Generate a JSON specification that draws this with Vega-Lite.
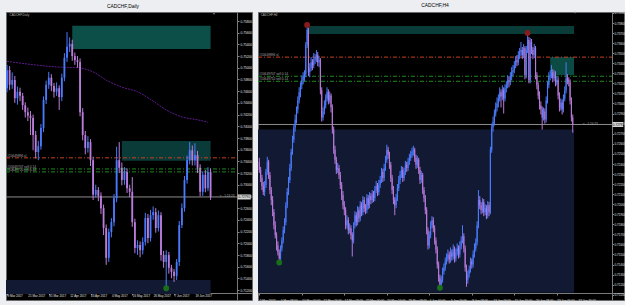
{
"$schema":"https://vega.github.io/schema/vega-lite/v6.json",
"background":"#eceef2",
"padding":{"left":4,"right":3,"top":2,"bottom":5},
"spacing":6,
"bounds":"flush",
"config":{"view":{"fill":"#000000","stroke":"#6a6a6a","strokeWidth":1},"axis":{"labelOverlap":false,"labelBound":false},"title":{"fontSize":4.9,"fontWeight":"normal","color":"#000000","font":"Liberation Sans","offset":3.6}},
"datasets":{
"daily":[
{"i":0,"o":0.7465,"h":0.7505,"l":0.7458,"c":0.7496},{"i":1,"o":0.7496,"h":0.7503,"l":0.7462,"c":0.7471},{"i":2,"o":0.7471,"h":0.7492,"l":0.7464,"c":0.7479},{"i":3,"o":0.7479,"h":0.7486,"l":0.7440,"c":0.7448},{"i":4,"o":0.7448,"h":0.7468,"l":0.7437,"c":0.7459},{"i":5,"o":0.7459,"h":0.7466,"l":0.7443,"c":0.7452},{"i":6,"o":0.7452,"h":0.7457,"l":0.7428,"c":0.7436},{"i":7,"o":0.7436,"h":0.7441,"l":0.7415,"c":0.7424},{"i":8,"o":0.7424,"h":0.7432,"l":0.7409,"c":0.7418},{"i":9,"o":0.7418,"h":0.7426,"l":0.7385,"c":0.7414},
{"i":10,"o":0.7414,"h":0.7420,"l":0.7359,"c":0.7385},{"i":11,"o":0.7385,"h":0.7392,"l":0.7345,"c":0.7356},{"i":12,"o":0.7356,"h":0.7375,"l":0.7342,"c":0.7366},{"i":13,"o":0.7366,"h":0.7404,"l":0.7360,"c":0.7397},{"i":14,"o":0.7397,"h":0.7451,"l":0.7390,"c":0.7445},{"i":15,"o":0.7445,"h":0.7478,"l":0.7438,"c":0.7471},{"i":16,"o":0.7471,"h":0.7493,"l":0.7464,"c":0.7483},{"i":17,"o":0.7483,"h":0.7489,"l":0.7460,"c":0.7469},{"i":18,"o":0.7469,"h":0.7474,"l":0.7449,"c":0.7459},{"i":19,"o":0.7459,"h":0.7475,"l":0.7452,"c":0.7465},
{"i":20,"o":0.7465,"h":0.7470,"l":0.7428,"c":0.7450},{"i":21,"o":0.7450,"h":0.7490,"l":0.7443,"c":0.7483},{"i":22,"o":0.7483,"h":0.7525,"l":0.7477,"c":0.7517},{"i":23,"o":0.7517,"h":0.7561,"l":0.7510,"c":0.7536},{"i":24,"o":0.7536,"h":0.7552,"l":0.7527,"c":0.7541},{"i":25,"o":0.7541,"h":0.7548,"l":0.7512,"c":0.7520},{"i":26,"o":0.7520,"h":0.7526,"l":0.7505,"c":0.7513},{"i":27,"o":0.7513,"h":0.7520,"l":0.7500,"c":0.7510},{"i":28,"o":0.7510,"h":0.7516,"l":0.7417,"c":0.7424},{"i":29,"o":0.7424,"h":0.7431,"l":0.7376,"c":0.7385},
{"i":30,"o":0.7385,"h":0.7392,"l":0.7352,"c":0.7363},{"i":31,"o":0.7363,"h":0.7383,"l":0.7355,"c":0.7373},{"i":32,"o":0.7373,"h":0.7378,"l":0.7332,"c":0.7342},{"i":33,"o":0.7342,"h":0.7348,"l":0.7274,"c":0.7283},{"i":34,"o":0.7283,"h":0.7300,"l":0.7278,"c":0.7291},{"i":35,"o":0.7291,"h":0.7296,"l":0.7272,"c":0.7281},{"i":36,"o":0.7281,"h":0.7287,"l":0.7250,"c":0.7260},{"i":37,"o":0.7260,"h":0.7266,"l":0.7214,"c":0.7226},{"i":38,"o":0.7226,"h":0.7232,"l":0.7163,"c":0.7175},{"i":39,"o":0.7175,"h":0.7225,"l":0.7168,"c":0.7219},
{"i":40,"o":0.7219,"h":0.7243,"l":0.7210,"c":0.7236},{"i":41,"o":0.7236,"h":0.7284,"l":0.7229,"c":0.7277},{"i":42,"o":0.7277,"h":0.7365,"l":0.7270,"c":0.7342},{"i":43,"o":0.7342,"h":0.7373,"l":0.7320,"c":0.7329},{"i":44,"o":0.7329,"h":0.7338,"l":0.7299,"c":0.7308},{"i":45,"o":0.7308,"h":0.7330,"l":0.7300,"c":0.7322},{"i":46,"o":0.7322,"h":0.7328,"l":0.7286,"c":0.7294},{"i":47,"o":0.7294,"h":0.7300,"l":0.7279,"c":0.7288},{"i":48,"o":0.7288,"h":0.7313,"l":0.7228,"c":0.7236},{"i":49,"o":0.7236,"h":0.7242,"l":0.7183,"c":0.7192},
{"i":50,"o":0.7192,"h":0.7205,"l":0.7180,"c":0.7197},{"i":51,"o":0.7197,"h":0.7203,"l":0.7176,"c":0.7188},{"i":52,"o":0.7188,"h":0.7210,"l":0.7181,"c":0.7202},{"i":53,"o":0.7202,"h":0.7252,"l":0.7196,"c":0.7243},{"i":54,"o":0.7243,"h":0.7250,"l":0.7200,"c":0.7209},{"i":55,"o":0.7209,"h":0.7257,"l":0.7203,"c":0.7248},{"i":56,"o":0.7248,"h":0.7263,"l":0.7240,"c":0.7253},{"i":57,"o":0.7253,"h":0.7260,"l":0.7218,"c":0.7226},{"i":58,"o":0.7226,"h":0.7256,"l":0.7220,"c":0.7248},{"i":59,"o":0.7248,"h":0.7253,"l":0.7170,"c":0.7180},
{"i":60,"o":0.7180,"h":0.7187,"l":0.7158,"c":0.7168},{"i":61,"o":0.7168,"h":0.7188,"l":0.7123,"c":0.7180},{"i":62,"o":0.7180,"h":0.7185,"l":0.7148,"c":0.7158},{"i":63,"o":0.7158,"h":0.7163,"l":0.7140,"c":0.7151},{"i":64,"o":0.7151,"h":0.7156,"l":0.7134,"c":0.7144},{"i":65,"o":0.7144,"h":0.7173,"l":0.7137,"c":0.7168},{"i":66,"o":0.7168,"h":0.7238,"l":0.7161,"c":0.7231},{"i":67,"o":0.7231,"h":0.7268,"l":0.7226,"c":0.7260},{"i":68,"o":0.7260,"h":0.7315,"l":0.7254,"c":0.7308},{"i":69,"o":0.7308,"h":0.7350,"l":0.7302,"c":0.7342},
{"i":70,"o":0.7342,"h":0.7373,"l":0.7335,"c":0.7359},{"i":71,"o":0.7359,"h":0.7367,"l":0.7333,"c":0.7342},{"i":72,"o":0.7342,"h":0.7371,"l":0.7333,"c":0.7351},{"i":73,"o":0.7351,"h":0.7358,"l":0.7320,"c":0.7329},{"i":74,"o":0.7329,"h":0.7335,"l":0.7280,"c":0.7288},{"i":75,"o":0.7288,"h":0.7323,"l":0.7281,"c":0.7317},{"i":76,"o":0.7317,"h":0.7325,"l":0.7287,"c":0.7294},{"i":77,"o":0.7294,"h":0.7330,"l":0.7289,"c":0.7322},{"i":78,"o":0.7322,"h":0.7328,"l":0.7274,"c":0.7279}],
"h4":[
{"i":0,"o":0.7242,"h":0.7246,"l":0.7231,"c":0.7234},{"i":1,"o":0.7234,"h":0.7237,"l":0.7222,"c":0.7226},{"i":2,"o":0.7226,"h":0.7229,"l":0.7214,"c":0.7218},{"i":3,"o":0.7218,"h":0.7222,"l":0.7209,"c":0.7212},{"i":4,"o":0.7212,"h":0.7223,"l":0.7208,"c":0.7219},{"i":5,"o":0.7219,"h":0.7235,"l":0.7216,"c":0.7232},{"i":6,"o":0.7232,"h":0.7247,"l":0.7229,"c":0.7242},{"i":7,"o":0.7242,"h":0.7244,"l":0.7225,"c":0.7229},{"i":8,"o":0.7229,"h":0.7232,"l":0.7210,"c":0.7214},{"i":9,"o":0.7214,"h":0.7217,"l":0.7199,"c":0.7204},
{"i":10,"o":0.7204,"h":0.7208,"l":0.7188,"c":0.7192},{"i":11,"o":0.7192,"h":0.7195,"l":0.7175,"c":0.7179},{"i":12,"o":0.7179,"h":0.7183,"l":0.7166,"c":0.7169},{"i":13,"o":0.7169,"h":0.7172,"l":0.7154,"c":0.7159},{"i":14,"o":0.7159,"h":0.7163,"l":0.7149,"c":0.7152},{"i":15,"o":0.7152,"h":0.7155,"l":0.7142,"c":0.7146},{"i":16,"o":0.7146,"h":0.7159,"l":0.7144,"c":0.7156},{"i":17,"o":0.7156,"h":0.7167,"l":0.7153,"c":0.7164},{"i":18,"o":0.7164,"h":0.7178,"l":0.7161,"c":0.7174},{"i":19,"o":0.7174,"h":0.7186,"l":0.7171,"c":0.7182},
{"i":20,"o":0.7182,"h":0.7202,"l":0.7179,"c":0.7199},{"i":21,"o":0.7199,"h":0.7216,"l":0.7196,"c":0.7212},{"i":22,"o":0.7212,"h":0.7227,"l":0.7209,"c":0.7224},{"i":23,"o":0.7224,"h":0.7240,"l":0.7221,"c":0.7236},{"i":24,"o":0.7236,"h":0.7255,"l":0.7233,"c":0.7252},{"i":25,"o":0.7252,"h":0.7268,"l":0.7249,"c":0.7264},{"i":26,"o":0.7264,"h":0.7279,"l":0.7261,"c":0.7276},{"i":27,"o":0.7276,"h":0.7289,"l":0.7272,"c":0.7284},{"i":28,"o":0.7284,"h":0.7297,"l":0.7280,"c":0.7294},{"i":29,"o":0.7294,"h":0.7307,"l":0.7290,"c":0.7303},
{"i":30,"o":0.7303,"h":0.7316,"l":0.7300,"c":0.7311},{"i":31,"o":0.7311,"h":0.7321,"l":0.7306,"c":0.7318},{"i":32,"o":0.7318,"h":0.7328,"l":0.7314,"c":0.7323},{"i":33,"o":0.7323,"h":0.7331,"l":0.7319,"c":0.7327},{"i":34,"o":0.7327,"h":0.7333,"l":0.7322,"c":0.7329},{"i":35,"o":0.7329,"h":0.7361,"l":0.7326,"c":0.7358},{"i":36,"o":0.7358,"h":0.7378,"l":0.7355,"c":0.7373},{"i":37,"o":0.7373,"h":0.7375,"l":0.7327,"c":0.7331},{"i":38,"o":0.7331,"h":0.7340,"l":0.7326,"c":0.7335},{"i":39,"o":0.7335,"h":0.7346,"l":0.7332,"c":0.7341},
{"i":40,"o":0.7341,"h":0.7344,"l":0.7333,"c":0.7338},{"i":41,"o":0.7338,"h":0.7350,"l":0.7335,"c":0.7343},{"i":42,"o":0.7343,"h":0.7349,"l":0.7339,"c":0.7345},{"i":43,"o":0.7345,"h":0.7353,"l":0.7341,"c":0.7348},{"i":44,"o":0.7348,"h":0.7351,"l":0.7337,"c":0.7341},{"i":45,"o":0.7341,"h":0.7347,"l":0.7336,"c":0.7343},{"i":46,"o":0.7343,"h":0.7345,"l":0.7309,"c":0.7313},{"i":47,"o":0.7313,"h":0.7316,"l":0.7282,"c":0.7286},{"i":48,"o":0.7286,"h":0.7296,"l":0.7283,"c":0.7292},{"i":49,"o":0.7292,"h":0.7303,"l":0.7289,"c":0.7298},
{"i":50,"o":0.7298,"h":0.7309,"l":0.7295,"c":0.7305},{"i":51,"o":0.7305,"h":0.7316,"l":0.7302,"c":0.7311},{"i":52,"o":0.7311,"h":0.7314,"l":0.7299,"c":0.7303},{"i":53,"o":0.7303,"h":0.7312,"l":0.7300,"c":0.7308},{"i":54,"o":0.7308,"h":0.7310,"l":0.7291,"c":0.7296},{"i":55,"o":0.7296,"h":0.7299,"l":0.7270,"c":0.7274},{"i":56,"o":0.7274,"h":0.7277,"l":0.7250,"c":0.7254},{"i":57,"o":0.7254,"h":0.7258,"l":0.7240,"c":0.7244},{"i":58,"o":0.7244,"h":0.7247,"l":0.7230,"c":0.7234},{"i":59,"o":0.7234,"h":0.7241,"l":0.7231,"c":0.7236},
{"i":60,"o":0.7236,"h":0.7239,"l":0.7225,"c":0.7229},{"i":61,"o":0.7229,"h":0.7232,"l":0.7215,"c":0.7219},{"i":62,"o":0.7219,"h":0.7222,"l":0.7204,"c":0.7209},{"i":63,"o":0.7209,"h":0.7213,"l":0.7195,"c":0.7199},{"i":64,"o":0.7199,"h":0.7203,"l":0.7189,"c":0.7194},{"i":65,"o":0.7194,"h":0.7197,"l":0.7175,"c":0.7179},{"i":66,"o":0.7179,"h":0.7189,"l":0.7176,"c":0.7184},{"i":67,"o":0.7184,"h":0.7187,"l":0.7170,"c":0.7174},{"i":68,"o":0.7174,"h":0.7181,"l":0.7171,"c":0.7176},{"i":69,"o":0.7176,"h":0.7179,"l":0.7165,"c":0.7169},
{"i":70,"o":0.7169,"h":0.7172,"l":0.7148,"c":0.7164},{"i":71,"o":0.7164,"h":0.7182,"l":0.7161,"c":0.7179},{"i":72,"o":0.7179,"h":0.7193,"l":0.7176,"c":0.7189},{"i":73,"o":0.7189,"h":0.7192,"l":0.7178,"c":0.7182},{"i":74,"o":0.7182,"h":0.7198,"l":0.7179,"c":0.7194},{"i":75,"o":0.7194,"h":0.7197,"l":0.7182,"c":0.7186},{"i":76,"o":0.7186,"h":0.7203,"l":0.7183,"c":0.7199},{"i":77,"o":0.7199,"h":0.7202,"l":0.7188,"c":0.7192},{"i":78,"o":0.7192,"h":0.7208,"l":0.7189,"c":0.7204},{"i":79,"o":0.7204,"h":0.7207,"l":0.7192,"c":0.7196},
{"i":80,"o":0.7196,"h":0.7200,"l":0.7190,"c":0.7194},{"i":81,"o":0.7194,"h":0.7210,"l":0.7191,"c":0.7206},{"i":82,"o":0.7206,"h":0.7209,"l":0.7195,"c":0.7199},{"i":83,"o":0.7199,"h":0.7212,"l":0.7196,"c":0.7208},{"i":84,"o":0.7208,"h":0.7211,"l":0.7200,"c":0.7204},{"i":85,"o":0.7204,"h":0.7214,"l":0.7201,"c":0.7210},{"i":86,"o":0.7210,"h":0.7213,"l":0.7202,"c":0.7206},{"i":87,"o":0.7206,"h":0.7218,"l":0.7203,"c":0.7214},{"i":88,"o":0.7214,"h":0.7223,"l":0.7211,"c":0.7218},{"i":89,"o":0.7218,"h":0.7221,"l":0.7208,"c":0.7212},
{"i":90,"o":0.7212,"h":0.7224,"l":0.7209,"c":0.7219},{"i":91,"o":0.7219,"h":0.7228,"l":0.7216,"c":0.7224},{"i":92,"o":0.7224,"h":0.7236,"l":0.7221,"c":0.7232},{"i":93,"o":0.7232,"h":0.7235,"l":0.7222,"c":0.7226},{"i":94,"o":0.7226,"h":0.7240,"l":0.7223,"c":0.7236},{"i":95,"o":0.7236,"h":0.7248,"l":0.7233,"c":0.7244},{"i":96,"o":0.7244,"h":0.7259,"l":0.7241,"c":0.7254},{"i":97,"o":0.7254,"h":0.7257,"l":0.7245,"c":0.7249},{"i":98,"o":0.7249,"h":0.7252,"l":0.7235,"c":0.7239},{"i":99,"o":0.7239,"h":0.7242,"l":0.7222,"c":0.7226},
{"i":100,"o":0.7226,"h":0.7229,"l":0.7210,"c":0.7214},{"i":101,"o":0.7214,"h":0.7218,"l":0.7200,"c":0.7204},{"i":102,"o":0.7204,"h":0.7207,"l":0.7189,"c":0.7199},{"i":103,"o":0.7199,"h":0.7210,"l":0.7196,"c":0.7206},{"i":104,"o":0.7206,"h":0.7220,"l":0.7203,"c":0.7216},{"i":105,"o":0.7216,"h":0.7228,"l":0.7213,"c":0.7224},{"i":106,"o":0.7224,"h":0.7233,"l":0.7220,"c":0.7229},{"i":107,"o":0.7229,"h":0.7238,"l":0.7226,"c":0.7234},{"i":108,"o":0.7234,"h":0.7237,"l":0.7222,"c":0.7226},{"i":109,"o":0.7226,"h":0.7236,"l":0.7223,"c":0.7232},
{"i":110,"o":0.7232,"h":0.7243,"l":0.7229,"c":0.7239},{"i":111,"o":0.7239,"h":0.7242,"l":0.7232,"c":0.7236},{"i":112,"o":0.7236,"h":0.7246,"l":0.7233,"c":0.7242},{"i":113,"o":0.7242,"h":0.7250,"l":0.7239,"c":0.7246},{"i":114,"o":0.7246,"h":0.7253,"l":0.7243,"c":0.7249},{"i":115,"o":0.7249,"h":0.7256,"l":0.7246,"c":0.7252},{"i":116,"o":0.7252,"h":0.7258,"l":0.7248,"c":0.7254},{"i":117,"o":0.7254,"h":0.7256,"l":0.7242,"c":0.7246},{"i":118,"o":0.7246,"h":0.7249,"l":0.7235,"c":0.7239},{"i":119,"o":0.7239,"h":0.7248,"l":0.7236,"c":0.7244},
{"i":120,"o":0.7244,"h":0.7246,"l":0.7230,"c":0.7234},{"i":121,"o":0.7234,"h":0.7237,"l":0.7220,"c":0.7224},{"i":122,"o":0.7224,"h":0.7233,"l":0.7221,"c":0.7229},{"i":123,"o":0.7229,"h":0.7231,"l":0.7210,"c":0.7214},{"i":124,"o":0.7214,"h":0.7217,"l":0.7202,"c":0.7206},{"i":125,"o":0.7206,"h":0.7209,"l":0.7190,"c":0.7194},{"i":126,"o":0.7194,"h":0.7197,"l":0.7170,"c":0.7174},{"i":127,"o":0.7174,"h":0.7177,"l":0.7155,"c":0.7159},{"i":128,"o":0.7159,"h":0.7173,"l":0.7156,"c":0.7169},{"i":129,"o":0.7169,"h":0.7183,"l":0.7166,"c":0.7179},
{"i":130,"o":0.7179,"h":0.7188,"l":0.7176,"c":0.7184},{"i":131,"o":0.7184,"h":0.7187,"l":0.7172,"c":0.7176},{"i":132,"o":0.7176,"h":0.7179,"l":0.7160,"c":0.7164},{"i":133,"o":0.7164,"h":0.7167,"l":0.7151,"c":0.7155},{"i":134,"o":0.7155,"h":0.7158,"l":0.7136,"c":0.7140},{"i":135,"o":0.7140,"h":0.7143,"l":0.7123,"c":0.7127},{"i":136,"o":0.7127,"h":0.7130,"l":0.7115,"c":0.7120},{"i":137,"o":0.7120,"h":0.7129,"l":0.7117,"c":0.7125},{"i":138,"o":0.7125,"h":0.7137,"l":0.7122,"c":0.7133},{"i":139,"o":0.7133,"h":0.7141,"l":0.7130,"c":0.7137},
{"i":140,"o":0.7137,"h":0.7147,"l":0.7134,"c":0.7143},{"i":141,"o":0.7143,"h":0.7151,"l":0.7140,"c":0.7146},{"i":142,"o":0.7146,"h":0.7155,"l":0.7143,"c":0.7150},{"i":143,"o":0.7150,"h":0.7153,"l":0.7141,"c":0.7145},{"i":144,"o":0.7145,"h":0.7157,"l":0.7142,"c":0.7152},{"i":145,"o":0.7152,"h":0.7155,"l":0.7144,"c":0.7148},{"i":146,"o":0.7148,"h":0.7160,"l":0.7145,"c":0.7155},{"i":147,"o":0.7155,"h":0.7158,"l":0.7142,"c":0.7146},{"i":148,"o":0.7146,"h":0.7156,"l":0.7143,"c":0.7152},{"i":149,"o":0.7152,"h":0.7161,"l":0.7149,"c":0.7156},
{"i":150,"o":0.7156,"h":0.7159,"l":0.7146,"c":0.7150},{"i":151,"o":0.7150,"h":0.7163,"l":0.7147,"c":0.7158},{"i":152,"o":0.7158,"h":0.7168,"l":0.7155,"c":0.7164},{"i":153,"o":0.7164,"h":0.7179,"l":0.7161,"c":0.7168},{"i":154,"o":0.7168,"h":0.7171,"l":0.7152,"c":0.7156},{"i":155,"o":0.7156,"h":0.7159,"l":0.7133,"c":0.7137},{"i":156,"o":0.7137,"h":0.7140,"l":0.7118,"c":0.7125},{"i":157,"o":0.7125,"h":0.7134,"l":0.7121,"c":0.7130},{"i":158,"o":0.7130,"h":0.7139,"l":0.7127,"c":0.7135},{"i":159,"o":0.7135,"h":0.7147,"l":0.7132,"c":0.7143},
{"i":160,"o":0.7143,"h":0.7146,"l":0.7136,"c":0.7140},{"i":161,"o":0.7140,"h":0.7154,"l":0.7137,"c":0.7150},{"i":162,"o":0.7150,"h":0.7161,"l":0.7147,"c":0.7156},{"i":163,"o":0.7156,"h":0.7166,"l":0.7153,"c":0.7162},{"i":164,"o":0.7162,"h":0.7183,"l":0.7159,"c":0.7179},{"i":165,"o":0.7179,"h":0.7214,"l":0.7176,"c":0.7204},{"i":166,"o":0.7204,"h":0.7208,"l":0.7195,"c":0.7199},{"i":167,"o":0.7199,"h":0.7202,"l":0.7190,"c":0.7194},{"i":168,"o":0.7194,"h":0.7206,"l":0.7191,"c":0.7202},{"i":169,"o":0.7202,"h":0.7205,"l":0.7188,"c":0.7192},
{"i":170,"o":0.7192,"h":0.7200,"l":0.7189,"c":0.7196},{"i":171,"o":0.7196,"h":0.7199,"l":0.7185,"c":0.7189},{"i":172,"o":0.7189,"h":0.7203,"l":0.7186,"c":0.7199},{"i":173,"o":0.7199,"h":0.7202,"l":0.7188,"c":0.7192},{"i":174,"o":0.7192,"h":0.7257,"l":0.7190,"c":0.7254},{"i":175,"o":0.7254,"h":0.7280,"l":0.7251,"c":0.7276},{"i":176,"o":0.7276,"h":0.7287,"l":0.7272,"c":0.7282},{"i":177,"o":0.7282,"h":0.7294,"l":0.7278,"c":0.7290},{"i":178,"o":0.7290,"h":0.7301,"l":0.7287,"c":0.7296},{"i":179,"o":0.7296,"h":0.7306,"l":0.7292,"c":0.7300},
{"i":180,"o":0.7300,"h":0.7309,"l":0.7296,"c":0.7305},{"i":181,"o":0.7305,"h":0.7316,"l":0.7302,"c":0.7311},{"i":182,"o":0.7311,"h":0.7314,"l":0.7296,"c":0.7307},{"i":183,"o":0.7307,"h":0.7318,"l":0.7303,"c":0.7313},{"i":184,"o":0.7313,"h":0.7316,"l":0.7290,"c":0.7305},{"i":185,"o":0.7305,"h":0.7319,"l":0.7302,"c":0.7315},{"i":186,"o":0.7315,"h":0.7322,"l":0.7311,"c":0.7318},{"i":187,"o":0.7318,"h":0.7328,"l":0.7315,"c":0.7323},{"i":188,"o":0.7323,"h":0.7327,"l":0.7316,"c":0.7321},{"i":189,"o":0.7321,"h":0.7331,"l":0.7318,"c":0.7327},
{"i":190,"o":0.7327,"h":0.7336,"l":0.7323,"c":0.7331},{"i":191,"o":0.7331,"h":0.7338,"l":0.7327,"c":0.7333},{"i":192,"o":0.7333,"h":0.7342,"l":0.7330,"c":0.7338},{"i":193,"o":0.7338,"h":0.7347,"l":0.7335,"c":0.7343},{"i":194,"o":0.7343,"h":0.7348,"l":0.7337,"c":0.7341},{"i":195,"o":0.7341,"h":0.7352,"l":0.7338,"c":0.7348},{"i":196,"o":0.7348,"h":0.7355,"l":0.7344,"c":0.7351},{"i":197,"o":0.7351,"h":0.7361,"l":0.7347,"c":0.7353},{"i":198,"o":0.7353,"h":0.7356,"l":0.7344,"c":0.7348},{"i":199,"o":0.7348,"h":0.7359,"l":0.7345,"c":0.7355},
{"i":200,"o":0.7355,"h":0.7357,"l":0.7324,"c":0.7328},{"i":201,"o":0.7328,"h":0.7357,"l":0.7325,"c":0.7353},{"i":202,"o":0.7353,"h":0.7370,"l":0.7350,"c":0.7363},{"i":203,"o":0.7363,"h":0.7366,"l":0.7320,"c":0.7323},{"i":204,"o":0.7323,"h":0.7365,"l":0.7320,"c":0.7361},{"i":205,"o":0.7361,"h":0.7364,"l":0.7349,"c":0.7353},{"i":206,"o":0.7353,"h":0.7356,"l":0.7344,"c":0.7348},{"i":207,"o":0.7348,"h":0.7359,"l":0.7345,"c":0.7355},{"i":208,"o":0.7355,"h":0.7357,"l":0.7324,"c":0.7328},{"i":209,"o":0.7328,"h":0.7331,"l":0.7314,"c":0.7318},
{"i":210,"o":0.7318,"h":0.7321,"l":0.7304,"c":0.7308},{"i":211,"o":0.7308,"h":0.7312,"l":0.7294,"c":0.7298},{"i":212,"o":0.7298,"h":0.7302,"l":0.7289,"c":0.7294},{"i":213,"o":0.7294,"h":0.7297,"l":0.7274,"c":0.7286},{"i":214,"o":0.7286,"h":0.7296,"l":0.7283,"c":0.7292},{"i":215,"o":0.7292,"h":0.7295,"l":0.7280,"c":0.7284},{"i":216,"o":0.7284,"h":0.7307,"l":0.7281,"c":0.7303},{"i":217,"o":0.7303,"h":0.7322,"l":0.7300,"c":0.7318},{"i":218,"o":0.7318,"h":0.7331,"l":0.7315,"c":0.7327},{"i":219,"o":0.7327,"h":0.7333,"l":0.7323,"c":0.7328},
{"i":220,"o":0.7328,"h":0.7338,"l":0.7325,"c":0.7331},{"i":221,"o":0.7331,"h":0.7334,"l":0.7321,"c":0.7325},{"i":222,"o":0.7325,"h":0.7333,"l":0.7322,"c":0.7329},{"i":223,"o":0.7329,"h":0.7332,"l":0.7317,"c":0.7321},{"i":224,"o":0.7321,"h":0.7327,"l":0.7318,"c":0.7323},{"i":225,"o":0.7323,"h":0.7326,"l":0.7304,"c":0.7308},{"i":226,"o":0.7308,"h":0.7311,"l":0.7292,"c":0.7296},{"i":227,"o":0.7296,"h":0.7305,"l":0.7293,"c":0.7301},{"i":228,"o":0.7301,"h":0.7304,"l":0.7289,"c":0.7294},{"i":229,"o":0.7294,"h":0.7309,"l":0.7291,"c":0.7305},
{"i":230,"o":0.7305,"h":0.7317,"l":0.7302,"c":0.7313},{"i":231,"o":0.7313,"h":0.7341,"l":0.7310,"c":0.7325},{"i":232,"o":0.7325,"h":0.7329,"l":0.7319,"c":0.7323},{"i":233,"o":0.7323,"h":0.7326,"l":0.7317,"c":0.7321},{"i":234,"o":0.7321,"h":0.7324,"l":0.7299,"c":0.7303},{"i":235,"o":0.7303,"h":0.7306,"l":0.7282,"c":0.7286},{"i":236,"o":0.7286,"h":0.7289,"l":0.7271,"c":0.7279}],
"dzones":[{"a":25,"b":78,"p1":0.7572,"p2":0.7532,"z":"bright"},{"a":44,"b":78,"p1":0.7375,"p2":0.7341,"z":"dark"},{"a":-0.38,"b":78,"p1":0.7137,"p2":0.7113,"z":"base"}],
"hzones":[{"a":-0.98,"b":237,"p1":0.7274,"p2":0.7112,"z":"base"},{"a":36,"b":237,"p1":0.7377,"p2":0.7369,"z":"dark"},{"a":219,"b":237,"p1":0.7346,"p2":0.7328,"z":"bright"}],
"levels":[{"k":"sl","p":0.7346,"t":"#10649896 sl"},{"k":"sell","p":0.7327,"t":"#10649707 sell 0.14"},{"k":"sell","p":0.7322,"t":"#10649710 sell 0.14"},{"k":"bid","p":0.72791,"t":"<-- 1:24:23"}],
"dma":[{"i":0,"v":0.7511},{"i":21,"v":0.7501},{"i":27,"v":0.7500},{"i":33,"v":0.7493},{"i":38,"v":0.7479},{"i":44,"v":0.7467},{"i":50,"v":0.7459},{"i":56,"v":0.7443},{"i":61,"v":0.7428},{"i":67,"v":0.7416},{"i":73,"v":0.7411},{"i":77,"v":0.7407}],
"dpts":[{"i":61,"p":0.7123,"k":"low"}],
"hpts":[{"i":15,"p":0.7142,"k":"low"},{"i":36,"p":0.7378,"k":"high"},{"i":136,"p":0.7117,"k":"low"},{"i":202,"p":0.7370,"k":"high"}],
"dlab":[{"i":0,"t":"9 Mar 2017"},{"i":8,"t":"21 Mar 2017"},{"i":16,"t":"31 Mar 2017"},{"i":24,"t":"12 Apr 2017"},{"i":32,"t":"24 Apr 2017"},{"i":40,"t":"4 May 2017"},{"i":48,"t":"16 May 2017"},{"i":56,"t":"26 May 2017"},{"i":64,"t":"7 Jun 2017"},{"i":72,"t":"19 Jun 2017"}],
"hlab":[{"i":0,"t":"2 May 2017"},{"i":16,"t":"5 May 08:00"},{"i":32,"t":"10 May 00:00"},{"i":48,"t":"12 May 16:00"},{"i":64,"t":"17 May 08:00"},{"i":80,"t":"22 May 00:00"},{"i":96,"t":"24 May 16:00"},{"i":112,"t":"29 May 08:00"},{"i":128,"t":"1 Jun 00:00"},{"i":144,"t":"5 Jun 16:00"},{"i":160,"t":"8 Jun 08:00"},{"i":176,"t":"13 Jun 00:00"},{"i":192,"t":"15 Jun 16:00"},{"i":208,"t":"20 Jun 08:00"},{"i":224,"t":"23 Jun 00:00"},{"i":240,"t":"27 Jun 16:00"}]
},
"hconcat":[
{"width":246,"height":288,
"title":{"text":"CADCHF,Daily","dx":-6},
"resolve":{"scale":{"color":"independent","strokeDash":"independent"}},
"layer":[
{"data":{"name":"dzones"},"mark":{"type":"rect","clip":true},"encoding":{
"x":{"field":"a","type":"quantitative","title":null,"scale":{"domain":[-0.38,93.87],"nice":false,"zero":false,"padding":0},
"axis":{"orient":"bottom","offset":-7,"values":[0,8,16,24,32,40,48,56,64,72],"labels":false,"tickSize":2,"tickColor":"#8a8a8a","domainColor":"#7a7a7a","grid":false}},
"x2":{"field":"b"},
"y":{"field":"p1","type":"quantitative","title":null,"scale":{"domain":[0.71029,0.75954],"nice":false,"zero":false},
"axis":{"orient":"right","offset":-15,"format":".5f","tickCount":25,"labelFontSize":3.2,"labelFont":"Liberation Sans","labelColor":"#e4e4e4","labelPadding":1,"tickSize":2,"tickColor":"#8a8a8a","domainColor":"#7a7a7a","grid":false,"labelFlush":false,"labelOverlap":false}},
"y2":{"field":"p2"},
"color":{"field":"z","type":"nominal","scale":{"domain":["bright","dark","base"],"range":["#0c4f49","#0a3b39","#121a33"]},"legend":null}}},
{"data":{"name":"dma"},"mark":{"type":"line","color":"#601b90","strokeWidth":1,"strokeDash":[2,1],"interpolate":"monotone"},"encoding":{"x":{"field":"i","type":"quantitative","title":null},"y":{"field":"v","type":"quantitative","title":null}}},
{"data":{"name":"levels"},"mark":{"type":"rule","strokeWidth":1},"encoding":{"x":{"datum":-0.38},"x2":{"datum":88.1},"y":{"field":"p","type":"quantitative","title":null},
"color":{"field":"k","type":"nominal","scale":{"domain":["sl","sell","bid"],"range":["#c8401e","#1e8a1e","#8c8c8c"]},"legend":null},
"strokeDash":{"field":"k","type":"nominal","scale":{"domain":["sl","sell","bid"],"range":[[4,2,1,2],[4,2,1,2],[1,0]]},"legend":null}}},
{"data":{"name":"daily"},"mark":{"type":"rule","strokeWidth":1},"encoding":{"x":{"field":"i","type":"quantitative","title":null},"y":{"field":"l","type":"quantitative","title":null},"y2":{"field":"h"},"color":{"condition":{"test":"datum.c >= datum.o","value":"#4a7bff"},"value":"#bb7ddb"}}},
{"data":{"name":"daily"},"mark":{"type":"bar","width":1.8},"encoding":{"x":{"field":"i","type":"quantitative","title":null},"y":{"field":"o","type":"quantitative","title":null},"y2":{"field":"c"},"color":{"condition":{"test":"datum.c >= datum.o","value":"#4a7bff"},"value":"#bb7ddb"}}},
{"data":{"name":"dpts"},"mark":{"type":"circle","size":34,"opacity":1},"encoding":{"x":{"field":"i","type":"quantitative","title":null},"y":{"field":"p","type":"quantitative","title":null},"color":{"field":"k","type":"nominal","scale":{"domain":["high","low"],"range":["#8b1a1a","#1a6e1a"]},"legend":null}}},
{"data":{"name":"levels"},"transform":[{"filter":"datum.k != 'bid'"}],"mark":{"type":"text","align":"left","baseline":"bottom","fontSize":3.2,"font":"Liberation Sans","color":"#a8a8a8","dy":-0.3},"encoding":{"x":{"datum":0.1},"y":{"field":"p","type":"quantitative","title":null},"text":{"field":"t"}}},
{"data":{"name":"levels"},"transform":[{"filter":"datum.k == 'bid'"}],"mark":{"type":"text","align":"left","baseline":"bottom","fontSize":3,"font":"Liberation Sans","color":"#a8a8a8","dy":1},"encoding":{"x":{"datum":81.5},"y":{"field":"p","type":"quantitative","title":null},"text":{"field":"t"}}},
{"data":{"name":"levels"},"transform":[{"filter":"datum.k == 'bid'"}],"mark":{"type":"rule","strokeWidth":5,"color":"#d4d4d4"},"encoding":{"x":{"datum":88.4},"x2":{"datum":93.4},"y":{"field":"p","type":"quantitative","title":null}}},
{"data":{"name":"levels"},"transform":[{"filter":"datum.k == 'bid'"}],"mark":{"type":"text","align":"left","baseline":"middle","fontSize":3.2,"font":"Liberation Sans","color":"#000000"},"encoding":{"x":{"datum":88.7},"y":{"field":"p","type":"quantitative","title":null},"text":{"field":"p","format":".5f"}}},
{"data":{"name":"dlab"},"mark":{"type":"text","align":"left","baseline":"top","fontSize":3,"font":"Liberation Sans","color":"#e4e4e4","dx":0.5},"encoding":{"x":{"field":"i","type":"quantitative","title":null},"y":{"datum":0.71124},"text":{"field":"t"}}},
{"data":{"values":[{"n":"CADCHF,Daily"}]},"mark":{"type":"text","align":"left","baseline":"middle","fontSize":3,"font":"Liberation Sans","color":"#b0b0b0"},"encoding":{"x":{"datum":1},"y":{"datum":0.7591},"text":{"field":"n"}}},
{"data":{"values":[{"n":"shift"}]},"mark":{"type":"point","shape":"triangle-down","filled":true,"size":6,"color":"#9a9a9a"},"encoding":{"x":{"datum":79.3},"y":{"datum":0.7592}}}
]},
{"width":366,"height":288,
"title":{"text":"CADCHF,H4","dx":-6},
"resolve":{"scale":{"color":"independent","strokeDash":"independent"}},
"layer":[
{"data":{"name":"hzones"},"mark":{"type":"rect","clip":true},"encoding":{
"x":{"field":"a","type":"quantitative","title":null,"scale":{"domain":[-0.98,274.6],"nice":false,"zero":false,"padding":0},
"axis":{"orient":"bottom","offset":-7,"values":[0,16,32,48,64,80,96,112,128,144,160,176,192,208,224,240],"labels":false,"tickSize":2,"tickColor":"#8a8a8a","domainColor":"#7a7a7a","grid":false}},
"x2":{"field":"b"},
"y":{"field":"p1","type":"quantitative","title":null,"scale":{"domain":[0.71048,0.73908],"nice":false,"zero":false},
"axis":{"orient":"right","offset":-12,"format":".5f","tickCount":28,"labelFontSize":3.1,"labelFont":"Liberation Sans","labelColor":"#e4e4e4","labelPadding":0.5,"tickSize":1.5,"tickColor":"#8a8a8a","domainColor":"#7a7a7a","grid":false,"labelFlush":false,"labelOverlap":false}},
"y2":{"field":"p2"},
"color":{"field":"z","type":"nominal","scale":{"domain":["bright","dark","base"],"range":["#0c4a44","#0a3d3a","#121a33"]},"legend":null}}},
{"data":{"name":"levels"},"mark":{"type":"rule","strokeWidth":1},"encoding":{"x":{"datum":-0.98},"x2":{"datum":265.6},"y":{"field":"p","type":"quantitative","title":null},
"color":{"field":"k","type":"nominal","scale":{"domain":["sl","sell","bid"],"range":["#c8401e","#1e8a1e","#8c8c8c"]},"legend":null},
"strokeDash":{"field":"k","type":"nominal","scale":{"domain":["sl","sell","bid"],"range":[[4,2,1,2],[4,2,1,2],[1,0]]},"legend":null}}},
{"data":{"name":"h4"},"mark":{"type":"rule","strokeWidth":1},"encoding":{"x":{"field":"i","type":"quantitative","title":null},"y":{"field":"l","type":"quantitative","title":null},"y2":{"field":"h"},"color":{"condition":{"test":"datum.c >= datum.o","value":"#4a7bff"},"value":"#b878d8"}}},
{"data":{"name":"h4"},"mark":{"type":"bar","width":1.1},"encoding":{"x":{"field":"i","type":"quantitative","title":null},"y":{"field":"o","type":"quantitative","title":null},"y2":{"field":"c"},"color":{"condition":{"test":"datum.c >= datum.o","value":"#4a7bff"},"value":"#b878d8"}}},
{"data":{"name":"hpts"},"mark":{"type":"circle","size":34,"opacity":1},"encoding":{"x":{"field":"i","type":"quantitative","title":null},"y":{"field":"p","type":"quantitative","title":null},"color":{"field":"k","type":"nominal","scale":{"domain":["high","low"],"range":["#8b1a1a","#1a6e1a"]},"legend":null}}},
{"data":{"name":"levels"},"transform":[{"filter":"datum.k != 'bid'"}],"mark":{"type":"text","align":"left","baseline":"bottom","fontSize":3.2,"font":"Liberation Sans","color":"#a8a8a8","dy":-0.3},"encoding":{"x":{"datum":0},"y":{"field":"p","type":"quantitative","title":null},"text":{"field":"t"}}},
{"data":{"name":"levels"},"transform":[{"filter":"datum.k == 'bid'"}],"mark":{"type":"text","align":"left","baseline":"bottom","fontSize":3,"font":"Liberation Sans","color":"#a8a8a8","dy":1},"encoding":{"x":{"datum":243.7},"y":{"field":"p","type":"quantitative","title":null},"text":{"field":"t"}}},
{"data":{"name":"levels"},"transform":[{"filter":"datum.k == 'bid'"}],"mark":{"type":"rule","strokeWidth":5,"color":"#d4d4d4"},"encoding":{"x":{"datum":265.9},"x2":{"datum":274.0},"y":{"field":"p","type":"quantitative","title":null}}},
{"data":{"name":"levels"},"transform":[{"filter":"datum.k == 'bid'"}],"mark":{"type":"text","align":"left","baseline":"middle","fontSize":3.1,"font":"Liberation Sans","color":"#000000"},"encoding":{"x":{"datum":266.2},"y":{"field":"p","type":"quantitative","title":null},"text":{"field":"p","format":".5f"}}},
{"data":{"name":"hlab"},"mark":{"type":"text","align":"left","baseline":"top","fontSize":3,"font":"Liberation Sans","color":"#e4e4e4","dx":0.5},"encoding":{"x":{"field":"i","type":"quantitative","title":null},"y":{"datum":0.71053},"text":{"field":"t"}}},
{"data":{"values":[{"n":"CADCHF,H4"}]},"mark":{"type":"text","align":"left","baseline":"middle","fontSize":3,"font":"Liberation Sans","color":"#b0b0b0"},"encoding":{"x":{"datum":1},"y":{"datum":0.7388},"text":{"field":"n"}}},
{"data":{"values":[{"n":"shift"}]},"mark":{"type":"point","shape":"triangle-down","filled":true,"size":6,"color":"#9a9a9a"},"encoding":{"x":{"datum":237.7},"y":{"datum":0.7390}}}
]}
]
}
